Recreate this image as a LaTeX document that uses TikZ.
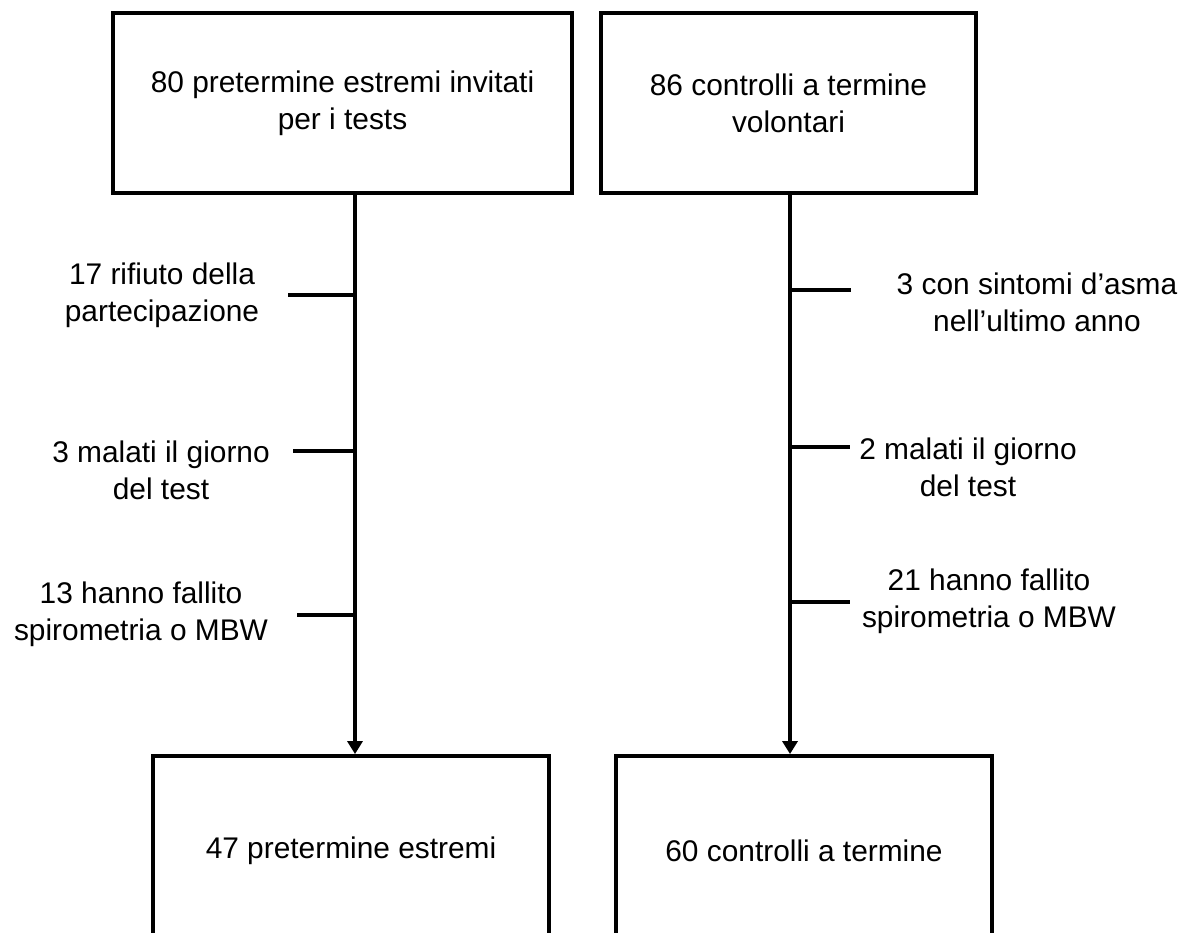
\documentclass[tikz,border=0pt]{standalone}
\usepackage{fontspec}
\setmainfont{Liberation Sans}
\usetikzlibrary{arrows.meta}
\begin{document}
\begin{tikzpicture}[x=0.02cm,y=-0.02cm,
  box/.style={draw,line width=2.2pt,align=center,font=\fontsize{17}{21}\selectfont},
  note/.style={align=center,font=\fontsize{17}{21}\selectfont},
  flow/.style={line width=2.2pt,-{Triangle[length=0.26cm,width=0.3cm]}},
  tick/.style={line width=2.2pt}]
  \clip (0,0) rectangle (1185,932);
  % boxes
  \node[box,minimum width=9.18cm,minimum height=3.6cm] (pre) at (342.5,103)
    {80 pretermine estremi invitati\\per i tests};
  \node[box,minimum width=7.5cm,minimum height=3.6cm] (ctl) at (788.5,103)
    {86 controlli a termine\\volontari};
  \node[box,minimum width=7.92cm,minimum height=3.8cm] (preout) at (351,851)
    {47 pretermine estremi};
  \node[box,minimum width=7.52cm,minimum height=3.8cm] (ctlout) at (804,851)
    {60 controlli a termine};
  \coordinate (lx) at (355,0);
  \coordinate (rx) at (790,0);
  \draw[flow] (pre.south -| lx) -- (preout.north -| lx);
  \draw[flow] (ctl.south -| rx) -- (ctlout.north -| rx);
  % exclusions, left
  \node[note] (l1) at (162,295) {17 rifiuto della\\partecipazione};
  \node[note] (l2) at (161,470) {3 malati il giorno\\del test};
  \node[note] (l3) at (141,614) {13 hanno fallito\\spirometria o MBW};
  \coordinate (la) at (288,295);
  \coordinate (lb) at (293,451);
  \coordinate (lc) at (297,615);
  \foreach \c in {la,lb,lc}
    \draw[tick] (\c) -- (\c -| lx);
  % exclusions, right
  \node[note] (r1) at (1037,302) {3 con sintomi d’asma\\nell’ultimo anno};
  \node[note] (r2) at (968,467) {2 malati il giorno\\del test};
  \node[note] (r3) at (989,601) {21 hanno fallito\\spirometria o MBW};
  \coordinate (ra) at (851,290);
  \coordinate (rb) at (850,447);
  \coordinate (rc) at (850,602);
  \foreach \c in {ra,rb,rc}
    \draw[tick] (\c -| rx) -- (\c);
\end{tikzpicture}
\end{document}
